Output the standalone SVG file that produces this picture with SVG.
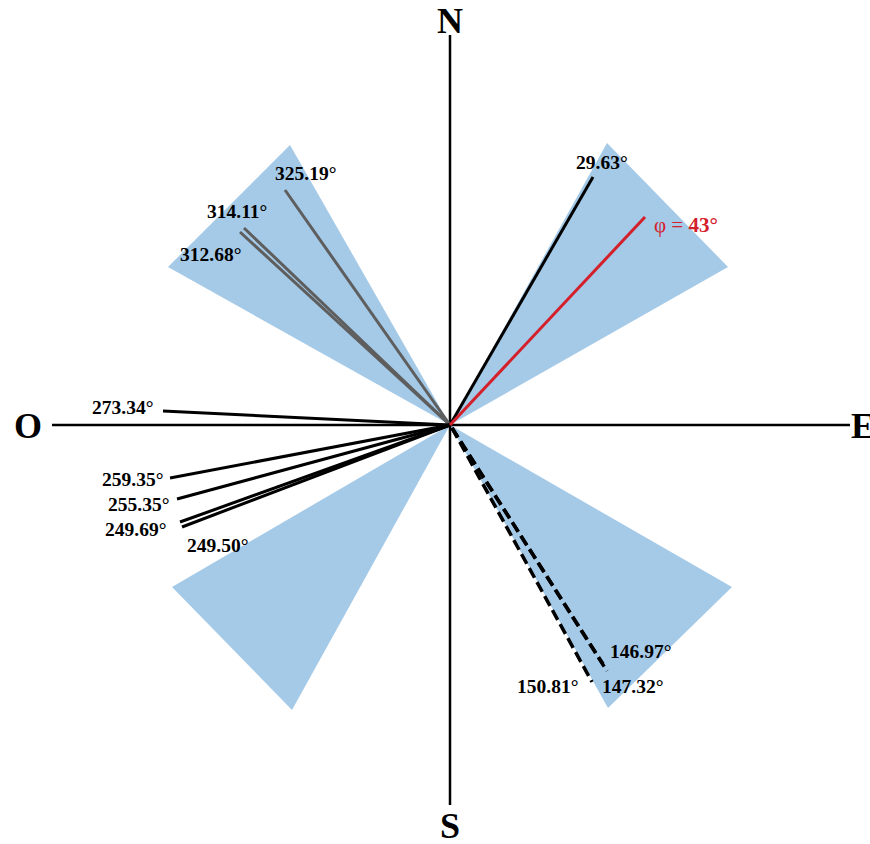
<svg xmlns="http://www.w3.org/2000/svg" width="870" height="844" viewBox="0 0 870 844">
<style>
.wedge{fill:#a5cae8;stroke:none}
.axis{stroke:#000;stroke-width:2.5}
.blk{stroke:#000;stroke-width:3;stroke-linecap:butt}
.gry{stroke:#5e5e5e;stroke-width:3}
.dsh{stroke:#000;stroke-width:3.5;stroke-dasharray:11 5}
.red{stroke:#d3202b;stroke-width:3}
.lbl{font-family:"Liberation Serif",serif;font-weight:bold;font-size:19.5px;fill:#000}
.dir{font-family:"Liberation Serif",serif;font-weight:bold;font-size:36px;fill:#000}
</style>
<rect width="870" height="844" fill="#fff"/>
<g id="sectors">
<polygon id="sector-nw" class="wedge" points="450,425 290,145 168,267"/>
<polygon id="sector-ne" class="wedge" points="450,425 607,143 728,267"/>
<polygon id="sector-sw" class="wedge" points="450,425 172,587 292,710"/>
<polygon id="sector-se" class="wedge" points="450,425 732,587 608,708"/>
</g>
<g id="axes">
<line class="axis" x1="450" y1="35" x2="450" y2="805"/>
<line class="axis" x1="52" y1="425" x2="850" y2="425"/>
<text class="dir" x="450" y="33" text-anchor="middle">N</text>
<text class="dir" x="450" y="838" text-anchor="middle">S</text>
<text class="dir" x="28" y="438" text-anchor="middle">O</text>
<text class="dir" x="851" y="438">E</text>
</g>
<g id="connectors">
<line class="gry" x1="450" y1="425" x2="285" y2="190"/>
<line class="gry" x1="450" y1="425" x2="244" y2="228"/>
<line class="gry" x1="450" y1="425" x2="240" y2="232"/>
<line class="blk" x1="450" y1="425" x2="163" y2="411"/>
<line class="blk" x1="450" y1="425" x2="170" y2="478"/>
<line class="blk" x1="450" y1="425" x2="177" y2="499"/>
<line class="blk" x1="450" y1="425" x2="180" y2="522"/>
<line class="blk" x1="450" y1="425" x2="182" y2="527"/>
<line class="dsh" x1="452" y1="428" x2="603" y2="664"/>
<line class="dsh" x1="452" y1="428" x2="607" y2="671"/>
<line class="dsh" x1="452" y1="428" x2="592" y2="682"/>
<line class="blk" x1="450" y1="425" x2="593" y2="177"/>
<line class="red" x1="450" y1="425" x2="645" y2="217"/>
</g>
<g id="labels">
<text class="lbl" x="275" y="180">325.19°</text>
<text class="lbl" x="207" y="218">314.11°</text>
<text class="lbl" x="180" y="261">312.68°</text>
<text class="lbl" x="576" y="169">29.63°</text>
<text class="lbl" x="654" y="232" style="fill:#d3202b;font-size:21px"><tspan font-weight="normal">φ = </tspan>43°</text>
<text class="lbl" x="92" y="414">273.34°</text>
<text class="lbl" x="102" y="486">259.35°</text>
<text class="lbl" x="108" y="511">255.35°</text>
<text class="lbl" x="105" y="536">249.69°</text>
<text class="lbl" x="187" y="552">249.50°</text>
<text class="lbl" x="610" y="658">146.97°</text>
<text class="lbl" x="602" y="693">147.32°</text>
<text class="lbl" x="517" y="693">150.81°</text>
</g>
</svg>
